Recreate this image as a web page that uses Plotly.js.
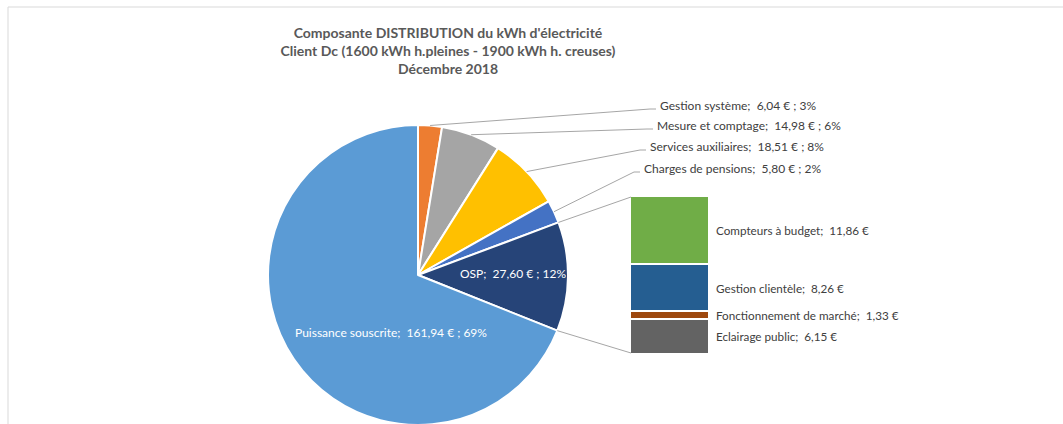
<!DOCTYPE html>
<html>
<head>
<meta charset="utf-8">
<script src="https://cdn.plot.ly/plotly-3.0.1.min.js"></script>
<style>
  html, body { margin: 0; padding: 0; overflow: hidden; background: #fff; }
</style>
</head>
<body>
<div id="plot"></div>
<script>
// main pie: components of the distribution part (€)
var pieLabels = ["Gestion système", "Mesure et comptage", "Services auxiliaires", "Charges de pensions", "OSP", "Puissance souscrite"];
var pieValues = [6.04, 14.98, 18.51, 5.80, 27.60, 161.94];
var pieColors = ["#ed7d31", "#a5a5a5", "#ffc000", "#4472c4", "#264478", "#5b9bd5"];

// secondary bar: breakdown of OSP, bottom to top
var barLabels = ["Eclairage public", "Fonctionnement de marché", "Gestion clientèle", "Compteurs à budget"];
var barValues = [6.15, 1.33, 8.26, 11.86];
var barColors = ["#636363", "#9e480e", "#255e91", "#70ad47"];

// page geometry (pixels), margins are 0 so paper == pixels
var W = 1063, H = 440;
var cx = 418, cy = 275, r = 150;
var barBox = { left: 631, right: 708, top: 197, bottom: 353 };
var outLabelPos = [[658, 105], [655, 125], [648, 146], [642, 168]];
var inLabelPos = { 4: [513, 273], 5: [391, 332] };
var font = "Lato, 'Liberation Sans', Arial, sans-serif";
var sep = ";\u00a0 ";

function px(x) { return x / W; }
function py(y) { return 1 - y / H; }
function fmt(v) { return v.toFixed(2).replace(".", ",") + " €"; }
function edge(f) {
  var a = f * 2 * Math.PI;
  return [cx + r * Math.sin(a), cy - r * Math.cos(a)];
}

var total = pieValues.reduce(function (a, b) { return a + b; }, 0);
var barTotal = barValues.reduce(function (a, b) { return a + b; }, 0);

var data = [{
  type: "pie",
  labels: pieLabels,
  values: pieValues,
  sort: false,
  direction: "clockwise",
  rotation: 0,
  textinfo: "none",
  marker: { colors: pieColors, line: { color: "#ffffff", width: 2 } },
  domain: { x: [px(cx - r), px(cx + r)], y: [py(cy + r), py(cy - r)] },
  showlegend: false
}];

barLabels.forEach(function (lab, i) {
  data.push({
    type: "bar",
    x: ["OSP"],
    y: [barValues[i]],
    name: lab,
    marker: { color: barColors[i], line: { color: "#ffffff", width: 2 } },
    showlegend: false
  });
});

var annotations = [];
var shapes = [];
var cum = 0;
pieValues.forEach(function (v, i) {
  var mid = (cum + v / 2) / total;
  var txt = pieLabels[i] + sep + fmt(v) + " ; " + Math.round(v / total * 100) + "%";
  if (i < 4) {
    var p = outLabelPos[i];
    var e = edge(mid);
    annotations.push({
      xref: "paper", yref: "paper", x: px(p[0]), y: py(p[1]),
      xanchor: "left", yanchor: "middle", showarrow: false, text: txt,
      font: { family: font, size: 12, color: "#404040" }
    });
    shapes.push({
      type: "path", xref: "paper", yref: "paper",
      path: "M" + px(e[0]) + "," + py(e[1]) + " L" + px(p[0] - 8) + "," + py(p[1] + 4) +
            " L" + px(p[0] - 2) + "," + py(p[1] + 4),
      line: { color: "#a6a6a6", width: 1 }
    });
  } else {
    var q = inLabelPos[i];
    annotations.push({
      xref: "paper", yref: "paper", x: px(q[0]), y: py(q[1]),
      xanchor: "center", yanchor: "middle", showarrow: false, text: txt,
      font: { family: font, size: 12, color: "#ffffff" }
    });
  }
  cum += v;
});

// connectors from OSP slice to the bar
var ospStart = pieValues.slice(0, 4).reduce(function (a, b) { return a + b; }, 0) / total;
var ospEnd = ospStart + pieValues[4] / total;
[[edge(ospStart), [barBox.left, barBox.top]], [edge(ospEnd), [barBox.left, barBox.bottom]]].forEach(function (s) {
  shapes.push({
    type: "line", xref: "paper", yref: "paper",
    x0: px(s[0][0]), y0: py(s[0][1]), x1: px(s[1][0]), y1: py(s[1][1]),
    line: { color: "#a6a6a6", width: 1 }
  });
});

// bar labels at segment middles
var c = 0;
barValues.forEach(function (v, i) {
  annotations.push({
    xref: "paper", yref: "y", x: px(barBox.right + 6), y: c + v / 2,
    xanchor: "left", yanchor: "middle", showarrow: false,
    text: barLabels[i] + sep + fmt(v),
    font: { family: font, size: 11.7, color: "#404040" }
  });
  c += v;
});

// chart area border (top and left)
shapes.push({ type: "line", xref: "paper", yref: "paper", x0: px(8), y0: py(7), x1: 1, y1: py(7), line: { color: "#d9d9d9", width: 1 } });
shapes.push({ type: "line", xref: "paper", yref: "paper", x0: px(8), y0: py(7), x1: px(8), y1: 0, line: { color: "#d9d9d9", width: 1 } });

var layout = {
  width: W,
  height: H,
  margin: { l: 0, r: 0, t: 0, b: 0 },
  paper_bgcolor: "#ffffff",
  plot_bgcolor: "rgba(0,0,0,0)",
  barmode: "stack",
  bargap: 0,
  hovermode: false,
  title: {
    text: "Composante DISTRIBUTION du kWh d'électricité<br>Client Dc (1600 kWh h.pleines - 1900 kWh h. creuses)<br>Décembre 2018",
    x: px(448), xanchor: "center",
    y: py(38), yanchor: "top",
    font: { family: font, size: 14, color: "#595959", weight: "bold" }
  },
  xaxis: { domain: [px(barBox.left - 1), px(barBox.right + 1)], range: [-0.5, 0.5], visible: false, fixedrange: true },
  yaxis: { domain: [py(barBox.bottom + 1), py(barBox.top - 1)], range: [0, barTotal], visible: false, fixedrange: true },
  annotations: annotations,
  shapes: shapes
};

Plotly.newPlot("plot", data, layout, { displayModeBar: false, staticPlot: true });
</script>
</body>
</html>
